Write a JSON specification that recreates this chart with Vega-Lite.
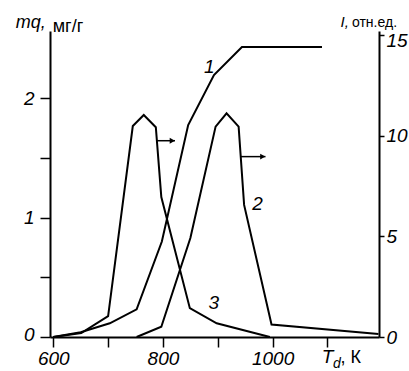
{
  "$schema": "https://vega.github.io/schema/vega-lite/v6.json",
  "width": 329,
  "height": 306,
  "autosize": "none",
  "padding": {"left": 50, "top": 31, "right": 30, "bottom": 34},
  "background": "white",
  "config": {
    "view": {"stroke": null},
    "font": "Liberation Sans",
    "axis": {
      "grid": false,
      "domainColor": "black",
      "domainWidth": 2,
      "tickColor": "black",
      "tickWidth": 1.5,
      "labelColor": "black",
      "labelFont": "Liberation Sans",
      "labelFontStyle": "italic",
      "labelFontSize": 19
    }
  },
  "datasets": {
    "mq": [
      {"T": 600, "v": 0},
      {"T": 650, "v": 0.04},
      {"T": 703, "v": 0.115},
      {"T": 752, "v": 0.232},
      {"T": 798, "v": 0.8},
      {"T": 846, "v": 1.776},
      {"T": 893, "v": 2.195},
      {"T": 944, "v": 2.43},
      {"T": 1090, "v": 2.43}
    ],
    "intensity": [
      {"curve": "2", "T": 752, "I": 0},
      {"curve": "2", "T": 797, "I": 0.51},
      {"curve": "2", "T": 850, "I": 4.92},
      {"curve": "2", "T": 896, "I": 10.45},
      {"curve": "2", "T": 916, "I": 11.11},
      {"curve": "2", "T": 938, "I": 10.45},
      {"curve": "2", "T": 948, "I": 6.56},
      {"curve": "2", "T": 998, "I": 0.62},
      {"curve": "2", "T": 1193, "I": 0.15},
      {"curve": "3", "T": 600, "I": 0},
      {"curve": "3", "T": 651, "I": 0.2},
      {"curve": "3", "T": 700, "I": 1.04},
      {"curve": "3", "T": 745, "I": 10.48},
      {"curve": "3", "T": 765, "I": 11.03},
      {"curve": "3", "T": 787, "I": 10.42},
      {"curve": "3", "T": 797, "I": 6.95},
      {"curve": "3", "T": 849, "I": 1.43},
      {"curve": "3", "T": 898, "I": 0.68},
      {"curve": "3", "T": 995, "I": 0}
    ],
    "arrows": [
      {"T": 789, "T2": 822, "I": 9.75},
      {"T": 942, "T2": 987, "I": 8.96}
    ],
    "heads": [
      {"T": 817, "I": 9.75},
      {"T": 982, "I": 8.96}
    ],
    "labelsLeft": [{"T": 884.7, "v": 2.262, "text": "1"}],
    "labelsRight": [
      {"T": 972.3, "I": 6.61, "text": "2"},
      {"T": 892.9, "I": 1.69, "text": "3"}
    ],
    "mqTitle": [{"T": 586.3, "v": 2.585, "text": "mq,"}],
    "mqUnit": [{"T": 599, "v": 2.558, "text": "мг/г"}],
    "iTitle": [{"T": 1124, "v": 2.595, "text": "I,"}],
    "iUnit": [{"T": 1144.7, "v": 2.595, "text": "отн.ед."}],
    "tTitle": [{"T": 1089.4, "v": -0.22, "text": "T"}],
    "tSub": [{"T": 1110, "v": -0.26, "text": "d"}],
    "tUnit": [{"T": 1124, "v": -0.22, "text": ", К"}]
  },
  "layer": [
    {
      "layer": [
        {
          "data": {"name": "mq"},
          "mark": {"type": "line", "color": "black", "strokeWidth": 2},
          "encoding": {
            "x": {
              "field": "T", "type": "quantitative",
              "scale": {"domain": [594, 1194], "nice": false, "zero": false},
              "axis": {
                "title": null,
                "values": [600, 700, 800, 900, 1000, 1100],
                "labelExpr": "datum.value == 600 || datum.value == 800 || datum.value == 1000 ? format(datum.value, 'd') : ''",
                "tickSize": 10,
                "labelPadding": 2,
                "labelFlush": false,
                "labelOverlap": false
              }
            },
            "y": {
              "field": "v", "type": "quantitative",
              "scale": {"domain": [0, 2.564], "nice": false, "zero": false},
              "axis": {
                "title": null,
                "orient": "left",
                "values": [0, 0.5, 1, 1.5, 2],
                "labelExpr": "datum.value % 1 == 0 ? format(datum.value, 'd') : ''",
                "labelOffset": {"condition": {"test": "datum.value == 0", "value": -3}, "value": 0},
                "tickSize": 10,
                "labelPadding": 6,
                "labelFlush": false,
                "labelOverlap": false
              }
            }
          }
        },
        {
          "data": {"name": "labelsLeft"},
          "mark": {"type": "text", "color": "black", "fontSize": 19, "fontStyle": "italic", "baseline": "middle"},
          "encoding": {
            "x": {"field": "T", "type": "quantitative", "scale": {"domain": [594, 1194], "nice": false, "zero": false}},
            "y": {"field": "v", "type": "quantitative", "scale": {"domain": [0, 2.564], "nice": false, "zero": false}},
            "text": {"field": "text"}
          }
        },
        {
          "data": {"name": "mqTitle"},
          "mark": {"type": "text", "color": "black", "fontSize": 18, "fontStyle": "italic", "align": "right", "baseline": "alphabetic"},
          "encoding": {
            "x": {"field": "T", "type": "quantitative", "scale": {"domain": [594, 1194], "nice": false, "zero": false}},
            "y": {"field": "v", "type": "quantitative", "scale": {"domain": [0, 2.564], "nice": false, "zero": false}},
            "text": {"field": "text"}
          }
        },
        {
          "data": {"name": "mqUnit"},
          "mark": {"type": "text", "color": "black", "fontSize": 18, "align": "left", "baseline": "alphabetic"},
          "encoding": {
            "x": {"field": "T", "type": "quantitative", "scale": {"domain": [594, 1194], "nice": false, "zero": false}},
            "y": {"field": "v", "type": "quantitative", "scale": {"domain": [0, 2.564], "nice": false, "zero": false}},
            "text": {"field": "text"}
          }
        },
        {
          "data": {"name": "iTitle"},
          "mark": {"type": "text", "color": "black", "fontSize": 15, "fontStyle": "italic", "align": "left", "baseline": "alphabetic"},
          "encoding": {
            "x": {"field": "T", "type": "quantitative", "scale": {"domain": [594, 1194], "nice": false, "zero": false}},
            "y": {"field": "v", "type": "quantitative", "scale": {"domain": [0, 2.564], "nice": false, "zero": false}},
            "text": {"field": "text"}
          }
        },
        {
          "data": {"name": "iUnit"},
          "mark": {"type": "text", "color": "black", "fontSize": 14, "align": "left", "baseline": "alphabetic"},
          "encoding": {
            "x": {"field": "T", "type": "quantitative", "scale": {"domain": [594, 1194], "nice": false, "zero": false}},
            "y": {"field": "v", "type": "quantitative", "scale": {"domain": [0, 2.564], "nice": false, "zero": false}},
            "text": {"field": "text"}
          }
        },
        {
          "data": {"name": "tTitle"},
          "mark": {"type": "text", "color": "black", "fontSize": 19, "fontStyle": "italic", "align": "left", "baseline": "alphabetic"},
          "encoding": {
            "x": {"field": "T", "type": "quantitative", "scale": {"domain": [594, 1194], "nice": false, "zero": false}},
            "y": {"field": "v", "type": "quantitative", "scale": {"domain": [0, 2.564], "nice": false, "zero": false}},
            "text": {"field": "text"}
          }
        },
        {
          "data": {"name": "tSub"},
          "mark": {"type": "text", "color": "black", "fontSize": 14, "fontStyle": "italic", "align": "left", "baseline": "alphabetic"},
          "encoding": {
            "x": {"field": "T", "type": "quantitative", "scale": {"domain": [594, 1194], "nice": false, "zero": false}},
            "y": {"field": "v", "type": "quantitative", "scale": {"domain": [0, 2.564], "nice": false, "zero": false}},
            "text": {"field": "text"}
          }
        },
        {
          "data": {"name": "tUnit"},
          "mark": {"type": "text", "color": "black", "fontSize": 18, "align": "left", "baseline": "alphabetic"},
          "encoding": {
            "x": {"field": "T", "type": "quantitative", "scale": {"domain": [594, 1194], "nice": false, "zero": false}},
            "y": {"field": "v", "type": "quantitative", "scale": {"domain": [0, 2.564], "nice": false, "zero": false}},
            "text": {"field": "text"}
          }
        }
      ]
    },
    {
      "layer": [
        {
          "data": {"name": "intensity"},
          "mark": {"type": "line", "color": "black", "strokeWidth": 2},
          "encoding": {
            "x": {"field": "T", "type": "quantitative", "scale": {"domain": [594, 1194], "nice": false, "zero": false}},
            "y": {
              "field": "I", "type": "quantitative",
              "scale": {"domain": [0, 15.2], "nice": false, "zero": false},
              "axis": {
                "title": null,
                "orient": "right",
                "values": [0, 5, 10, 15],
                "labelOffset": {"condition": {"test": "datum.value == 15", "value": 5}, "value": 0},
                "tickSize": 5,
                "labelPadding": 2,
                "labelFlush": false,
                "labelOverlap": false
              }
            },
            "detail": {"field": "curve"}
          }
        },
        {
          "data": {"name": "arrows"},
          "mark": {"type": "rule", "color": "black", "strokeWidth": 1.5},
          "encoding": {
            "x": {"field": "T", "type": "quantitative", "scale": {"domain": [594, 1194], "nice": false, "zero": false}},
            "x2": {"field": "T2"},
            "y": {"field": "I", "type": "quantitative", "scale": {"domain": [0, 15.2], "nice": false, "zero": false}}
          }
        },
        {
          "data": {"name": "heads"},
          "mark": {"type": "point", "shape": "triangle-right", "filled": true, "color": "black", "size": 35, "opacity": 1},
          "encoding": {
            "x": {"field": "T", "type": "quantitative", "scale": {"domain": [594, 1194], "nice": false, "zero": false}},
            "y": {"field": "I", "type": "quantitative", "scale": {"domain": [0, 15.2], "nice": false, "zero": false}}
          }
        },
        {
          "data": {"name": "labelsRight"},
          "mark": {"type": "text", "color": "black", "fontSize": 19, "fontStyle": "italic", "baseline": "middle"},
          "encoding": {
            "x": {"field": "T", "type": "quantitative", "scale": {"domain": [594, 1194], "nice": false, "zero": false}},
            "y": {"field": "I", "type": "quantitative", "scale": {"domain": [0, 15.2], "nice": false, "zero": false}},
            "text": {"field": "text"}
          }
        }
      ]
    }
  ],
  "resolve": {"scale": {"y": "independent"}}
}
